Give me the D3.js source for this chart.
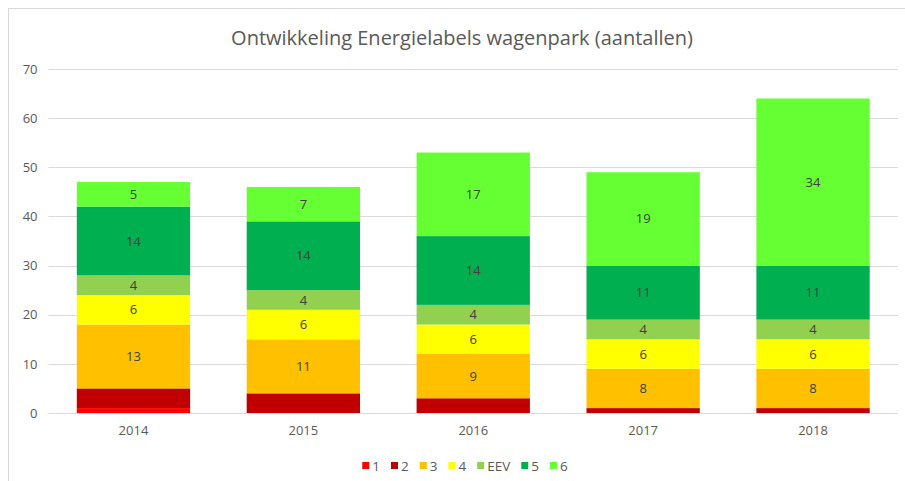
<!DOCTYPE html>
<html>
<head>
<meta charset="utf-8">
<script src="https://cdn.jsdelivr.net/npm/d3@7"></script>
<style>
  body { margin: 0; background: #fff; }
  text { font-family: "Open Sans", sans-serif; }
</style>
</head>
<body>
<div id="chart"></div>
<script>
'use strict';

// chart values
var years = ['2014', '2015', '2016', '2017', '2018'];
var labels = ['1', '2', '3', '4', 'EEV', '5', '6'];
var colors = ['#ff0000', '#c00000', '#ffc000', '#ffff00', '#92d050', '#00b050', '#66ff33'];

var label1   = [1, 0, 0, 0, 0];
var label2   = [4, 4, 3, 1, 1];
var label3   = [13, 11, 9, 8, 8];
var label4   = [6, 6, 6, 6, 6];
var labelEEV = [4, 4, 4, 4, 4];
var label5   = [14, 14, 14, 11, 11];
var label6   = [5, 7, 17, 19, 34];

var yTicks = [0, 10, 20, 30, 40, 50, 60, 70];

var series = [label1, label2, label3, label4, labelEEV, label5, label6];

var width = 905, height = 481;
var margin = { top: 69, left: 48.5, right: 7, bottom: 68 };

var svg = d3.select('#chart')
    .append('svg')
    .attr('width', width)
    .attr('height', height);

// outer chart border
svg.append('rect')
    .attr('x', 8.5).attr('y', 8.5)
    .attr('width', width).attr('height', height)
    .attr('fill', 'none')
    .attr('stroke', '#d9d9d9');

var x = d3.scaleBand()
    .domain(years)
    .range([margin.left, width - margin.right])
    .paddingInner(0.333)
    .paddingOuter(0.1665);

var y = d3.scaleLinear()
    .domain([0, 70])
    .range([height - margin.bottom, margin.top]);

// gridlines
svg.append('g')
    .selectAll('line')
    .data(yTicks)
    .join('line')
    .attr('x1', margin.left)
    .attr('x2', width - margin.right)
    .attr('y1', function (d) { return Math.round(y(d)) + 0.5; })
    .attr('y2', function (d) { return Math.round(y(d)) + 0.5; })
    .attr('stroke', '#d9d9d9');

// y axis labels
var yAxis = d3.axisLeft(y).tickValues(yTicks).tickSize(0).tickPadding(0);
var yG = svg.append('g')
    .attr('transform', 'translate(' + (margin.left - 11) + ',0)')
    .call(yAxis);
yG.select('.domain').remove();
yG.selectAll('text')
    .attr('fill', '#595959')
    .style('font-size', '13px');

// x axis labels
var xAxis = d3.axisBottom(x).tickSize(0).tickPadding(0);
var xG = svg.append('g')
    .attr('transform', 'translate(0,' + (height - margin.bottom + 13) + ')')
    .call(xAxis);
xG.select('.domain').remove();
xG.selectAll('text')
    .attr('fill', '#595959')
    .style('font-size', '13px');

// stacked data
var table = years.map(function (yr, i) {
    var row = { year: yr };
    labels.forEach(function (l, j) { row[l] = series[j][i]; });
    return row;
});
var stacked = d3.stack().keys(labels)(table);

var layers = svg.append('g')
    .selectAll('g')
    .data(stacked)
    .join('g')
    .attr('fill', function (d, i) { return colors[i]; });

layers.selectAll('rect')
    .data(function (d) { return d; })
    .join('rect')
    .attr('x', function (d) { return x(d.data.year); })
    .attr('width', x.bandwidth())
    .attr('y', function (d) { return y(d[1]); })
    .attr('height', function (d) { return y(d[0]) - y(d[1]); });

// value labels (only from series 3 upward)
stacked.forEach(function (layer, i) {
    if (i < 2) return;
    svg.append('g')
        .selectAll('text')
        .data(layer)
        .join('text')
        .attr('x', function (d) { return x(d.data.year) + x.bandwidth() / 2; })
        .attr('y', function (d) { return (y(d[0]) + y(d[1])) / 2; })
        .attr('dy', '0.35em')
        .attr('text-anchor', 'middle')
        .attr('fill', '#404040')
        .style('font-size', '13px')
        .text(function (d) { return d[1] - d[0]; });
});

// title
svg.append('text')
    .attr('x', 462)
    .attr('y', 45)
    .attr('text-anchor', 'middle')
    .attr('fill', '#595959')
    .style('font-size', '20px')
    .text('Ontwikkeling Energielabels wagenpark (aantallen)');

// legend
var legend = svg.append('g');
var lx = 0;
labels.forEach(function (l, i) {
    var item = legend.append('g').attr('transform', 'translate(' + lx + ',0)');
    item.append('rect')
        .attr('x', 0).attr('y', -4)
        .attr('width', 7).attr('height', 7)
        .attr('fill', colors[i]);
    var t = item.append('text')
        .attr('x', 10)
        .attr('y', 0)
        .attr('dy', '0.35em')
        .attr('fill', '#595959')
        .style('font-size', '13.5px')
        .text(l);
    lx += 10 + t.node().getComputedTextLength() + 11;
});
var legendWidth = lx - 11;
legend.attr('transform', 'translate(' + (465 - legendWidth / 2) + ',466)');
</script>
</body>
</html>
